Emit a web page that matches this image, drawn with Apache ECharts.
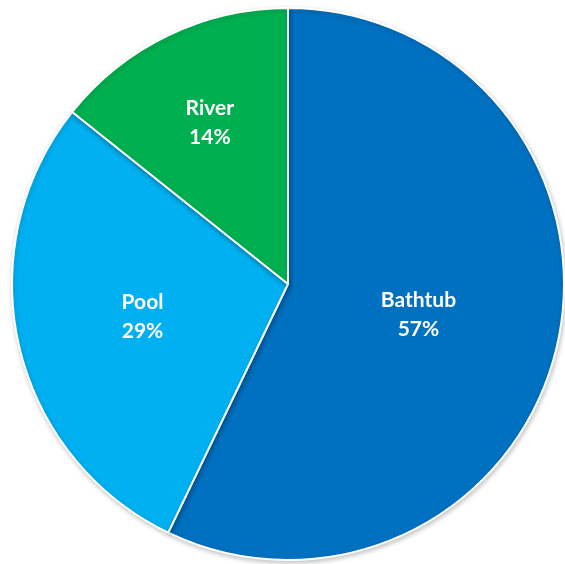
<!DOCTYPE html>
<html>
<head>
<meta charset="utf-8">
<script src="https://cdn.jsdelivr.net/npm/echarts@6/dist/echarts.min.js"></script>
<style>
  html, body { margin: 0; padding: 0; background: #ffffff; }
  #chart { width: 565px; height: 564px; }
</style>
</head>
<body>
<div id="chart"></div>
<script>
// Where the swimming happens: share of each location
const categories = ['Bathtub', 'Pool', 'River'];
const counts = [4, 2, 1];
const sliceColors = ['#0070C0', '#00B0F0', '#00B050'];
const labelOffsets = [[-7, -1], [-8, 1], [-17, -34]];

const chart = echarts.init(document.getElementById('chart'));

const seriesData = categories.map((name, i) => ({
  name: name,
  value: counts[i],
  itemStyle: { color: sliceColors[i] },
  label: { offset: labelOffsets[i] }
}));

chart.setOption({
  animation: false,
  series: [{
    type: 'pie',
    center: [288, 284],
    radius: [0, 276],
    startAngle: 90,
    clockwise: true,
    data: seriesData,
    itemStyle: {
      borderColor: '#ffffff',
      borderWidth: 2,
      shadowColor: 'rgba(0,0,0,0.22)',
      shadowBlur: 5,
      shadowOffsetX: 1,
      shadowOffsetY: 2
    },
    label: {
      show: true,
      position: 'inside',
      formatter: p => p.name + '\n' + Math.round(p.percent) + '%',
      color: '#ffffff',
      fontFamily: 'Lato',
      fontWeight: 'bold',
      fontSize: 21,
      lineHeight: 29,
      align: 'center'
    },
    labelLine: { show: false },
    emphasis: { disabled: true }
  }]
});
</script>
</body>
</html>
